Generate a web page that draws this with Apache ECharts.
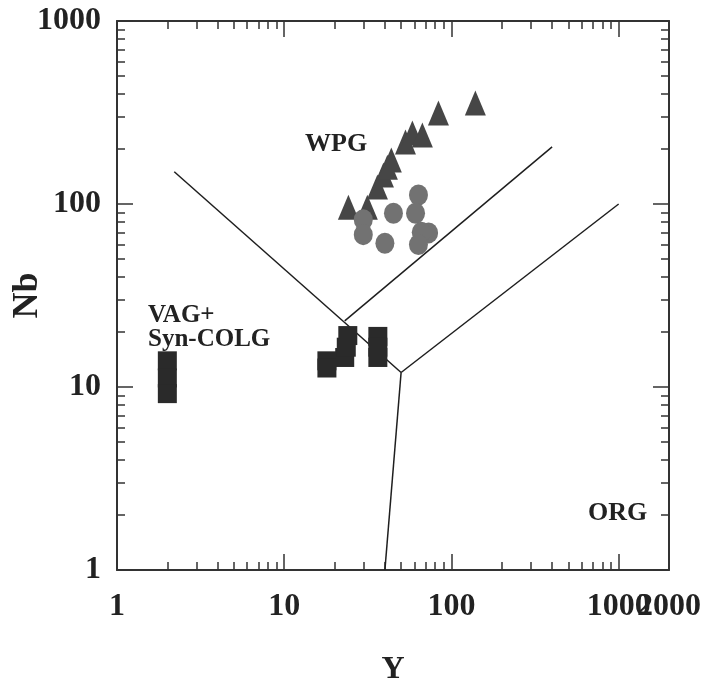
<!DOCTYPE html>
<html>
<head>
<meta charset="utf-8">
<title>Nb - Y</title>
<script src="https://cdn.jsdelivr.net/npm/echarts@6/dist/echarts.min.js"></script>
<style>
  html, body { margin: 0; padding: 0; background: #fff; }
  #main { width: 721px; height: 683px; }
</style>
</head>
<body>
<div id="main"></div>
<script>
// data: [Y, Nb]
var squares = [[2.0, 13.9], [2.0, 11.2], [2.0, 9.2], [18, 13.9], [18, 12.7], [23, 14.5], [23.5, 16.5], [24, 19.1], [36.3, 18.9], [36.3, 16.5], [36.3, 14.5]];
var triangles = [[24.2, 96], [31.4, 96], [36.1, 124], [39.2, 144], [41.4, 159], [43.7, 174], [53.1, 218], [58.4, 244], [67, 238], [83.6, 314], [139, 356]];
var circles = [[29.7, 82], [29.7, 68], [45, 89], [40, 61], [63.5, 112], [61, 89], [73, 69.5], [66, 70], [63.5, 60]];

// field boundaries
var line1 = [[2.2, 150], [50, 12]];
var line2 = [[23, 23], [400, 205]];
var line3 = [[50, 12], [1000, 100]];
var line4 = [[50, 12], [40, 1]];

var xMin = 1, xMax = 2000, yMin = 1, yMax = 1000;
var minorX = [2, 3, 4, 5, 6, 7, 8, 9, 20, 30, 40, 50, 60, 70, 80, 90, 200, 300, 400, 500, 600, 700, 800, 900];
var minorY = [2, 3, 4, 5, 6, 7, 8, 9, 20, 30, 40, 50, 60, 70, 80, 90, 200, 300, 400, 500, 600, 700, 800, 900];
var extraXLabels = [2000];

var serif = '"Liberation Serif", "Times New Roman", serif';
var ink = '#222';
var labelStyle = { fontFamily: serif, fontWeight: 'bold', fontSize: 32, color: ink };

function logAxis(pos, min, max, showLabel) {
    return {
        type: 'log',
        position: pos,
        min: min,
        max: max,
        logBase: 10,
        axisLine: { show: true, onZero: false, lineStyle: { color: '#333', width: 2 } },
        axisTick: { show: true, inside: true, length: 16, lineStyle: { color: '#333', width: 1.5 } },
        minorTick: { show: false },
        splitLine: { show: false },
        axisLabel: Object.assign({
            show: showLabel,
            margin: 18,
            hideOverlap: false,
            showMaxLabel: true,
            showMinLabel: true,
            formatter: function (v) { return String(Math.round(v)); }
        }, labelStyle)
    };
}

// only used to place the 2..9 ticks (log10 space)
function minorAxis(pos, max, vals) {
    return {
        type: 'value',
        position: pos,
        min: 0,
        max: max,
        axisLine: { show: false, onZero: false },
        axisTick: {
            show: true,
            inside: true,
            length: 8,
            customValues: vals.map(function (v) { return Math.log10(v); }),
            lineStyle: { color: '#333', width: 1.5 }
        },
        axisLabel: { show: false },
        splitLine: { show: false }
    };
}

var xBottom = logAxis('bottom', xMin, xMax, true);
xBottom.name = 'Y';
xBottom.nameLocation = 'middle';
xBottom.nameGap = 84;
xBottom.nameMoveOverlap = false;
xBottom.nameTextStyle = { fontFamily: serif, fontWeight: 'bold', fontSize: 32, color: ink };
xBottom.axisLabel.margin = 21;
xBottom.axisLabel.showMaxLabel = false;

var yLeft = logAxis('left', yMin, yMax, true);
yLeft.name = 'Nb';
yLeft.nameLocation = 'middle';
yLeft.nameGap = 71;
yLeft.nameMoveOverlap = false;
yLeft.nameTextStyle = { fontFamily: serif, fontWeight: 'bold', fontSize: 36, color: ink };
yLeft.axisLabel.margin = 16;

// bottom minor axis also carries the end label (2000)
var xMinorBottom = minorAxis('bottom', Math.log10(xMax), minorX);
xMinorBottom.axisLabel = Object.assign({
    show: true,
    margin: 21,
    hideOverlap: false,
    customValues: extraXLabels.map(function (v) { return Math.log10(v); }),
    formatter: function (v) { return String(Math.round(Math.pow(10, v))); }
}, labelStyle);

function boundary(d) {
    return {
        type: 'line',
        data: d,
        xAxisIndex: 0,
        yAxisIndex: 0,
        symbol: 'none',
        silent: true,
        z: 1,
        lineStyle: { color: '#1e1e1e', width: 1.5 }
    };
}

var chart = echarts.init(document.getElementById('main'));
var option = {
    backgroundColor: '#fff',
    animation: false,
    grid: {
        left: 117, top: 21, right: 52, bottom: 113,
        containLabel: false,
        outerBoundsMode: 'none'
    },
    xAxis: [
        xBottom,
        logAxis('top', xMin, xMax, false),
        xMinorBottom,
        minorAxis('top', Math.log10(xMax), minorX)
    ],
    yAxis: [
        yLeft,
        logAxis('right', yMin, yMax, false),
        minorAxis('left', Math.log10(yMax), minorY),
        minorAxis('right', Math.log10(yMax), minorY)
    ],
    graphic: [
        { type: 'text', x: 305, y: 144, style: { text: 'WPG', font: 'bold 26px ' + serif, fill: ink, verticalAlign: 'middle' } },
        { type: 'text', x: 148, y: 316, style: { text: 'VAG+', font: 'bold 25px ' + serif, fill: ink, verticalAlign: 'middle' } },
        { type: 'text', x: 148, y: 340, style: { text: 'Syn-COLG', font: 'bold 25px ' + serif, fill: ink, verticalAlign: 'middle' } },
        { type: 'text', x: 588, y: 513, style: { text: 'ORG', font: 'bold 26px ' + serif, fill: ink, verticalAlign: 'middle' } }
    ],
    series: [
        boundary(line1),
        boundary(line2),
        boundary(line3),
        boundary(line4),
        {
            type: 'scatter',
            data: squares,
            symbol: 'rect',
            symbolSize: 19,
            itemStyle: { color: '#2a2a2a', opacity: 1 },
            z: 3
        },
        {
            type: 'scatter',
            data: triangles,
            symbol: 'triangle',
            symbolSize: [21, 25],
            itemStyle: { color: '#464646', opacity: 1 },
            z: 3
        },
        {
            type: 'scatter',
            data: circles,
            symbol: 'circle',
            symbolSize: [19, 21],
            itemStyle: { color: '#727272', opacity: 1 },
            z: 4
        }
    ]
};
chart.setOption(option);
</script>
</body>
</html>
